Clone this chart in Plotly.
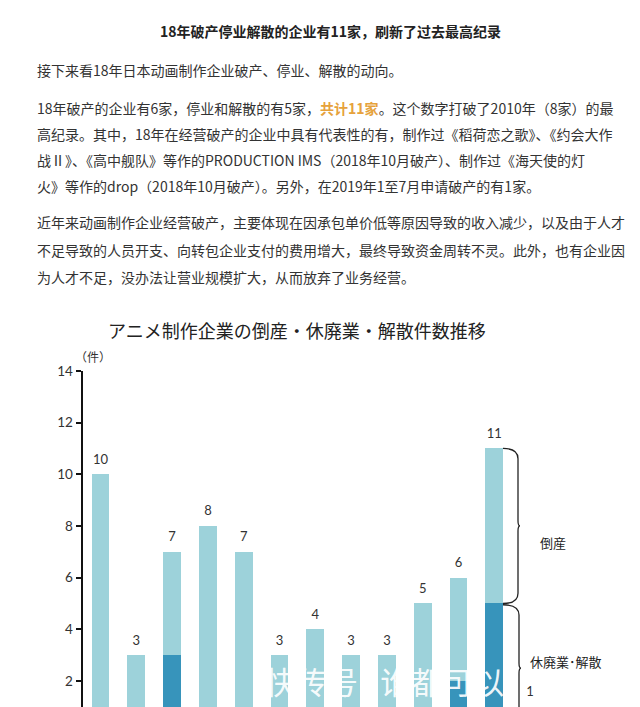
import plotly.graph_objects as go

# ---------------- data ----------------
years = ["2007", "2008", "2009", "2010", "2011", "2012", "2013",
         "2014", "2015", "2016", "2017", "2018", "2019"]
bankrupt = [10, 3, 4, 8, 7, 3, 4, 3, 3, 5, 4, 6, 1]      # 倒産 (light)
closure = [0, 0, 3, 0, 0, 0, 0, 0, 0, 0, 2, 5, 0]        # 休廃業・解散 (dark)
totals = [b + c for b, c in zip(bankrupt, closure)]
y_ticks = [2, 4, 6, 8, 10, 12, 14]

article_title = "18年破产停业解散的企业有11家，刷新了过去最高纪录"
para1 = ["接下来看18年日本动画制作企业破产、停业、解散的动向。"]
para2 = [
    "18年破产的企业有6家，停业和解散的有5家，<b><span style='color:#E6A23C'>共计11家</span></b>。这个数字打破了2010年（8家）的最",
    "高纪录。其中，18年在经营破产的企业中具有代表性的有，制作过《稻荷恋之歌》、《约会大作",
    "战Ⅱ》、《高中舰队》等作的PRODUCTION IMS（2018年10月破产）、制作过《海天使的灯",
    "火》等作的drop（2018年10月破产）。另外，在2019年1至7月申请破产的有1家。",
]
para3 = [
    "近年来动画制作企业经营破产，主要体现在因承包单价低等原因导致的收入减少，以及由于人才",
    "不足导致的人员开支、向转包企业支付的费用增大，最终导致资金周转不灵。此外，也有企业因",
    "为人才不足，没办法让营业规模扩大，从而放弃了业务经营。",
]
chart_title = "アニメ制作企業の倒産・休廃業・解散件数推移"
unit_label = "（件）"
brace_labels = ["倒産", "休廃業･解散"]
watermark = "快传号 | 谁都可以"

# ---------------- figure ----------------
W, H = 640, 707
def px(x):
    return x / W
def py(y):
    return 1 - y / H

LIGHT = "#9DD2DA"
DARK = "#3794BB"
CJK = "Noto Sans CJK SC"
JP = "Noto Sans CJK JP"
NUM = "Lato"

fig = go.Figure()
fig.add_bar(x=years, y=closure, marker_color=DARK, marker_line_width=0,
            name=brace_labels[1], hoverinfo="skip")
fig.add_bar(x=years, y=bankrupt, marker_color=LIGHT, marker_line_width=0,
            name=brace_labels[0], hoverinfo="skip")
fig.add_scatter(x=years, y=totals, mode="markers+text", text=[str(t) for t in totals],
                textposition="top center", cliponaxis=False, hoverinfo="skip",
                marker=dict(size=10, color="rgba(0,0,0,0)"),
                textfont=dict(family=NUM, size=13, color="#333333"))

fig.update_layout(
    width=W, height=H, margin=dict(l=0, r=0, t=0, b=0),
    barmode="stack", bargap=0.5, showlegend=False,
    plot_bgcolor="white", paper_bgcolor="white",
    xaxis=dict(type="category", domain=[px(82.5), 1], range=[-0.503, 15.07],
               showticklabels=False, ticks="", showgrid=False,
               zeroline=False, showline=False, fixedrange=True),
    yaxis=dict(domain=[0, py(367)], range=[0.995, 14], tickvals=y_ticks,
               ticks="outside", ticklen=5, tickwidth=1.5, tickcolor="#111111",
               showline=True, linecolor="#111111", linewidth=2,
               showgrid=False, zeroline=False,
               tickfont=dict(family=NUM, size=13.5, color="#333333")),
)

ann = []
ann.append(dict(text="<b>" + article_title + "</b>", x=px(330), y=py(23),
                font=dict(family=CJK, size=14, color="#222222")))
ann.append(dict(text=para1[0], x=px(35), y=py(63), xanchor="left",
                font=dict(family=CJK, size=14, color="#333333")))
for i, line in enumerate(para2):
    ann.append(dict(text=line, x=px(35), y=py(101 + 26.5 * i), xanchor="left",
                    font=dict(family=CJK, size=14, color="#333333")))
for i, line in enumerate(para3):
    ann.append(dict(text=line, x=px(35), y=py(216.5 + 28 * i), xanchor="left",
                    font=dict(family=CJK, size=14, color="#333333")))
ann.append(dict(text=chart_title, x=px(297), y=py(325.5),
                font=dict(family=JP, size=18, color="#222222")))
ann.append(dict(text=unit_label, x=px(93), y=py(352),
                font=dict(family=JP, size=12, color="#333333")))
ann.append(dict(text=brace_labels[0], x=px(553), y=py(541),
                font=dict(family=JP, size=13, color="#222222")))
ann.append(dict(text=brace_labels[1], x=px(566), y=py(661),
                font=dict(family=JP, size=13, color="#222222")))
ann.append(dict(text=watermark, x=px(384), y=py(680),
                font=dict(family=CJK, size=31, color="rgba(255,255,255,0.93)")))
for a in ann:
    a.setdefault("xanchor", "center")
    a.update(xref="paper", yref="paper", yanchor="middle", showarrow=False)
fig.update_layout(annotations=ann)

# braces (x in paper, y in data units)
a, b, c = px(503), px(518), px(520)
top = totals[11]
mid = closure[11]
cm = (top + mid) / 2
p1 = (f"M {a},{top} Q {b},{top} {b},{top-0.4} L {b},{cm+0.2} "
      f"Q {b},{cm} {c},{cm} Q {b},{cm} {b},{cm-0.2} L {b},{mid+0.4} "
      f"Q {b},{mid} {a},{mid}")
b2, c2 = px(519), px(521)
cm2 = mid / 2
p2 = (f"M {a},{mid-0.05} Q {b2},{mid-0.05} {b2},{mid-0.45} L {b2},{cm2+0.2} "
      f"Q {b2},{cm2} {c2},{cm2} Q {b2},{cm2} {b2},{cm2-0.2} L {b2},0.4 "
      f"Q {b2},0 {a},0")
for p in (p1, p2):
    fig.add_shape(type="path", path=p, xref="paper", yref="y",
                  line=dict(color="#222222", width=1.3))

fig.write_html("out.html")
